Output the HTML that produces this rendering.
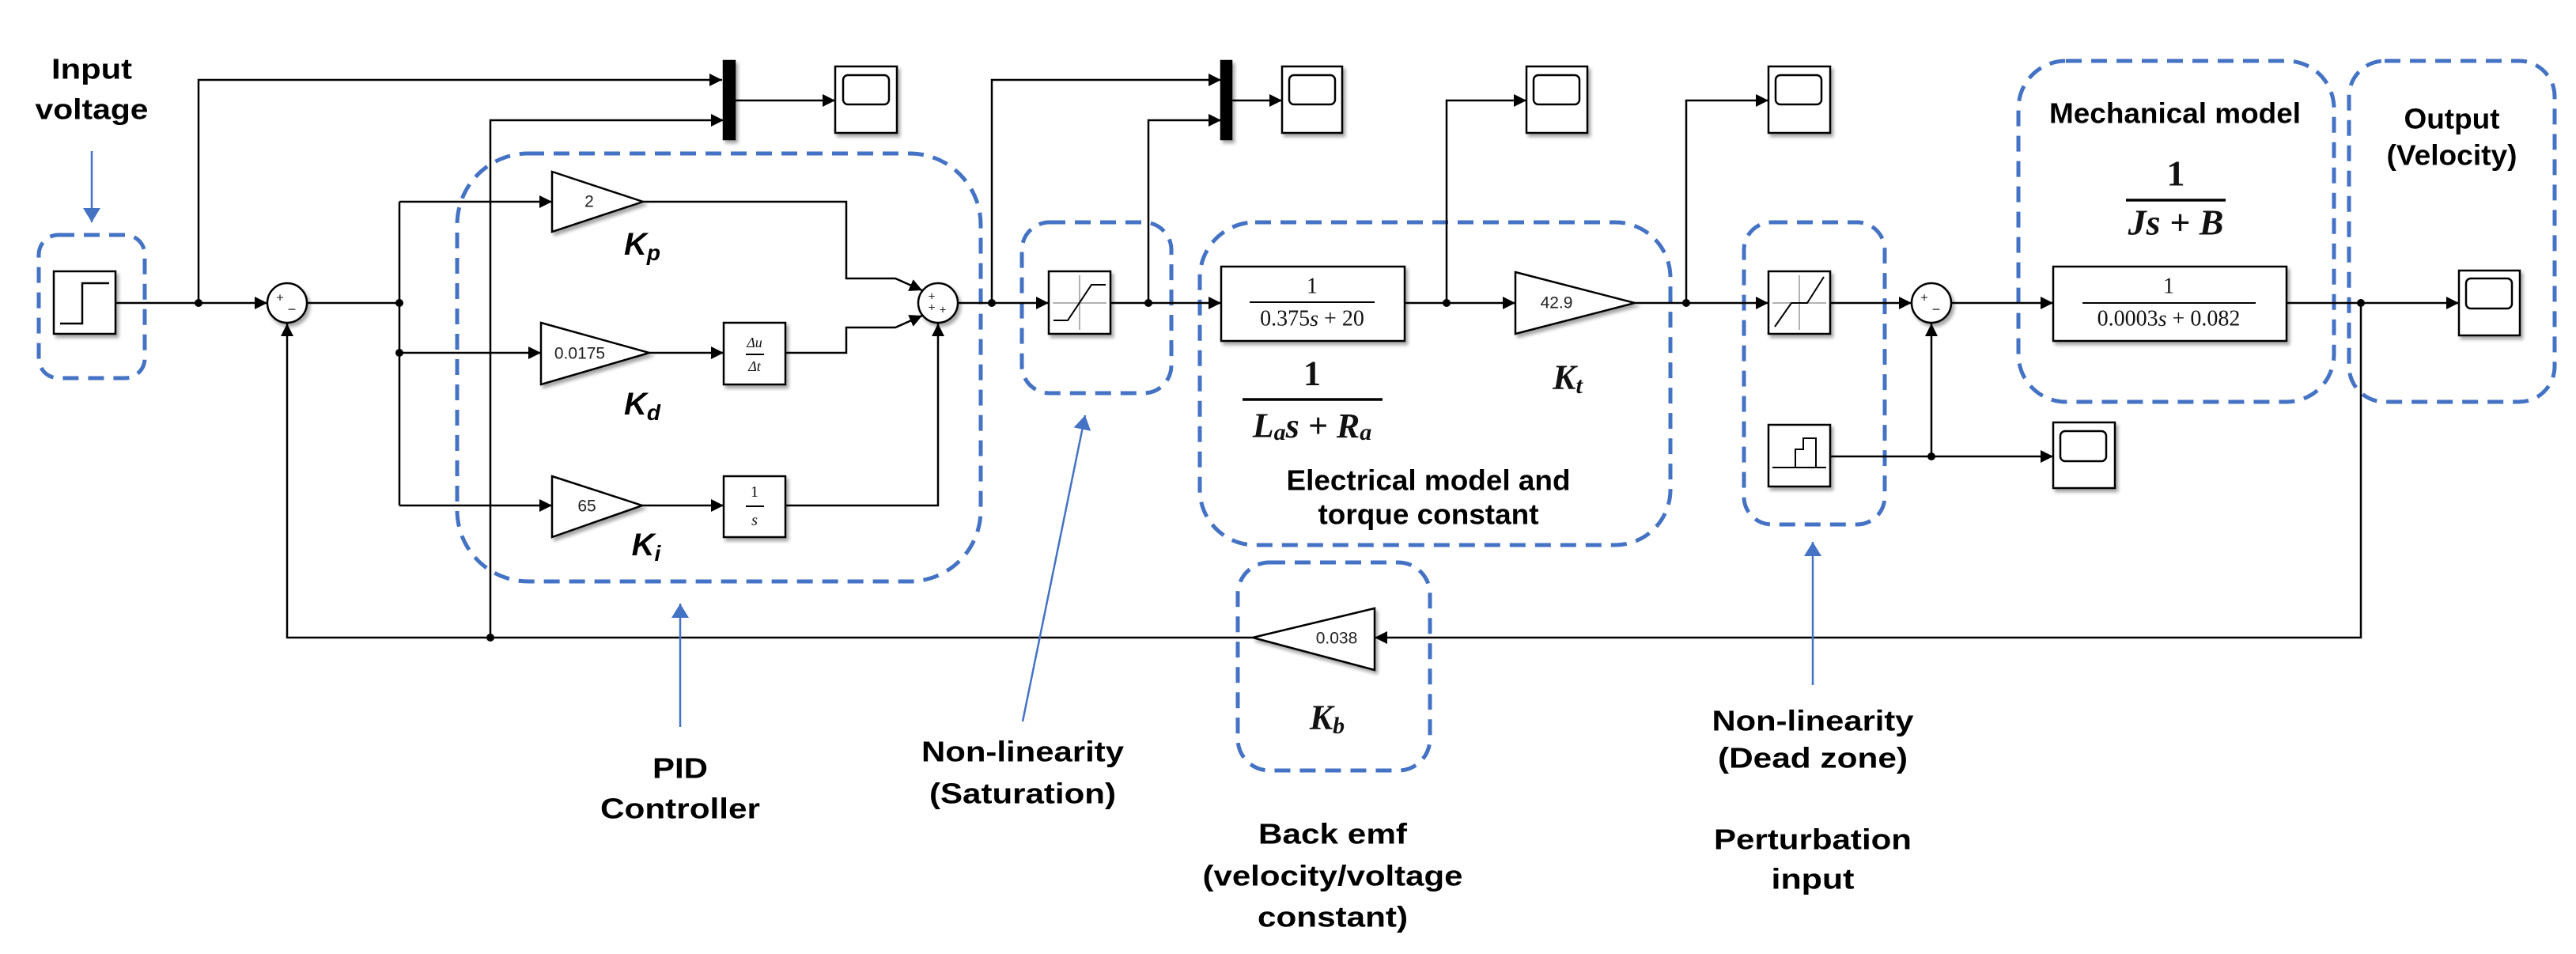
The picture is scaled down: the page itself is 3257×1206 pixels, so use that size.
<!DOCTYPE html>
<html><head><meta charset="utf-8"><style>html,body{margin:0;padding:0;background:#fff}svg{display:block}</style></head>
<body>
<svg width="3257" height="1206" viewBox="0 0 3257 1206" xmlns="http://www.w3.org/2000/svg">
<defs>
<marker id="a" markerUnits="userSpaceOnUse" markerWidth="18" markerHeight="16" refX="16" refY="8" orient="auto"><path d="M0,0 L16,8 L0,16 z" fill="#000"/></marker>
<marker id="b" markerUnits="userSpaceOnUse" markerWidth="18" markerHeight="22" refX="18" refY="11" orient="auto"><path d="M0,0 L18,11 L0,22 z" fill="#4472C4"/></marker>
<filter id="sh" x="-10%" y="-10%" width="130%" height="130%"><feDropShadow dx="3" dy="4" stdDeviation="2" flood-color="#000" flood-opacity="0.35"/></filter>
</defs>
<rect width="3257" height="1206" fill="#fff"/>

<!-- dashed group boxes -->
<g fill="none" stroke="#4472C4" stroke-width="5" stroke-dasharray="20 12">
<rect x="49" y="297" width="134" height="181" rx="25"/>
<rect x="578" y="194" width="662" height="541" rx="90"/>
<rect x="1292" y="281" width="189" height="216" rx="35"/>
<rect x="1517" y="281" width="595" height="408" rx="70"/>
<rect x="1565" y="711" width="243" height="263" rx="40"/>
<rect x="2205" y="281" width="178" height="382" rx="35"/>
<rect x="2552" y="77" width="399" height="431" rx="60"/>
<rect x="2970" y="77" width="260" height="431" rx="45"/>
</g>

<!-- connectors -->
<g fill="none" stroke="#000" stroke-width="2.5">
<path d="M146,383 H338" marker-end="url(#a)"/>
<path d="M251,383 V101 H913" marker-end="url(#a)"/>
<path d="M388,383 H505"/>
<path d="M505,255 V639"/>
<path d="M505,255 H698" marker-end="url(#a)"/>
<path d="M505,446 H684" marker-end="url(#a)"/>
<path d="M505,639 H698" marker-end="url(#a)"/>
<path d="M813,255 H1070 V352 H1132 L1166,367" marker-end="url(#a)"/>
<path d="M821,446 H915" marker-end="url(#a)"/>
<path d="M993,446 H1070 V414 H1132 L1166,399" marker-end="url(#a)"/>
<path d="M812,639 H915" marker-end="url(#a)"/>
<path d="M993,639 H1186 V409" marker-end="url(#a)"/>
<path d="M1210,383 H1326" marker-end="url(#a)"/>
<path d="M1254,383 V101 H1544" marker-end="url(#a)"/>
<path d="M1404,383 H1544" marker-end="url(#a)"/>
<path d="M1452,383 V152 H1544" marker-end="url(#a)"/>
<path d="M1557,127 H1621" marker-end="url(#a)"/>
<path d="M929,127 H1056" marker-end="url(#a)"/>
<path d="M620,806 V152 H915" marker-end="url(#a)"/>
<path d="M1776,383 H1916" marker-end="url(#a)"/>
<path d="M1829,383 V127 H1930" marker-end="url(#a)"/>
<path d="M2067,383 H2236" marker-end="url(#a)"/>
<path d="M2132,383 V127 H2236" marker-end="url(#a)"/>
<path d="M2314,383 H2417" marker-end="url(#a)"/>
<path d="M2314,577 H2596" marker-end="url(#a)"/>
<path d="M2442,577 V409" marker-end="url(#a)"/>
<path d="M2467,383 H2596" marker-end="url(#a)"/>
<path d="M2891,383 H3109" marker-end="url(#a)"/>
<path d="M2985,383 V806 H1738" marker-end="url(#a)"/>
<path d="M1584,806 H363 V409" marker-end="url(#a)"/>
</g>
<g fill="#000">
<circle cx="251" cy="383" r="5"/><circle cx="505" cy="383" r="5"/><circle cx="505" cy="446" r="5"/>
<circle cx="1254" cy="383" r="5"/><circle cx="1452" cy="383" r="5"/><circle cx="1829" cy="383" r="5"/>
<circle cx="2132" cy="383" r="5"/><circle cx="2442" cy="577" r="5"/><circle cx="2985" cy="383" r="5"/>
<circle cx="620" cy="806" r="5"/>
</g>

<!-- blocks -->
<g fill="#fff" stroke="#000" stroke-width="2.5" filter="url(#sh)">
<rect x="68" y="343" width="78" height="79"/>
<circle cx="363" cy="383" r="25"/>
<polygon points="698,217 813,255 698,293"/>
<polygon points="684,408 821,446 684,486"/>
<polygon points="698,602 812,639 698,679"/>
<rect x="915" y="408" width="78" height="78"/>
<rect x="915" y="602" width="78" height="77"/>
<circle cx="1186" cy="383" r="25"/>
<rect x="915" y="77" width="14" height="99" fill="#000"/>
<rect x="1056" y="84" width="78" height="84"/>
<rect x="1326" y="343" width="78" height="79"/>
<rect x="1544" y="77" width="13" height="99" fill="#000"/>
<rect x="1621" y="84" width="76" height="84"/>
<rect x="1544" y="337" width="232" height="94"/>
<rect x="1930" y="84" width="77" height="84"/>
<polygon points="1916,344 2067,383 1916,422"/>
<rect x="2236" y="84" width="78" height="84"/>
<rect x="2236" y="343" width="78" height="79"/>
<rect x="2236" y="537" width="78" height="78"/>
<circle cx="2442" cy="383" r="25"/>
<rect x="2596" y="534" width="78" height="83"/>
<rect x="2596" y="337" width="295" height="94"/>
<rect x="3109" y="342" width="77" height="82"/>
<polygon points="1738,769 1584,806 1738,847"/>
</g>

<!-- scope screens -->
<g fill="none" stroke="#000" stroke-width="2.5">
<rect x="1066" y="95" width="58" height="37" rx="6"/>
<rect x="1630" y="95" width="58" height="37" rx="6"/>
<rect x="1939" y="95" width="58" height="37" rx="6"/>
<rect x="2245" y="95" width="58" height="37" rx="6"/>
<rect x="2605" y="545" width="58" height="38" rx="6"/>
<rect x="3118" y="352" width="58" height="38" rx="6"/>
<!-- step -->
<path d="M76,409 H104 V358 H138"/>
</g>
<g fill="none" stroke="#000" stroke-width="2">
<!-- saturation -->
<path d="M1365,348 V417 M1331,383 H1399" stroke="#999" stroke-width="1.5"/>
<path d="M1332,405 H1350 L1380,360 H1398"/>
<!-- dead zone -->
<path d="M2275,348 V417 M2241,383 H2309" stroke="#999" stroke-width="1.5"/>
<path d="M2244,413 L2265,383 H2285 L2306,350"/>
<!-- perturbation -->
<path d="M2241,591 H2309 M2242,591 H2270 V568 H2280 V554 H2296 V591"/>
</g>

<!-- fraction lines in blocks -->
<g stroke="#000" stroke-width="2">
<line x1="1580" y1="382" x2="1738" y2="382"/>
<line x1="2633" y1="383" x2="2852" y2="383"/>
<line x1="943" y1="448" x2="966" y2="448"/>
<line x1="943" y1="640" x2="966" y2="640"/>
</g>
<g stroke="#000" stroke-width="3.5">
<line x1="1571" y1="505" x2="1748" y2="505"/>
<line x1="2688" y1="253" x2="2814" y2="253"/>
</g>

<!-- block text -->
<g font-family="Liberation Sans, sans-serif" font-size="21" fill="#222" text-anchor="middle" dominant-baseline="central">
<text x="745" y="255">2</text>
<text x="733" y="447">0.0175</text>
<text x="742" y="640">65</text>
<text x="1968" y="383">42.9</text>
<text x="1690" y="807">0.038</text>
<text x="354" y="377" font-size="16">+</text>
<text x="369" y="391" font-size="18">−</text>
<text x="1178" y="375" font-size="15">+</text>
<text x="1178" y="389" font-size="15">+</text>
<text x="1192" y="392" font-size="15">+</text>
<text x="2433" y="377" font-size="16">+</text>
<text x="2448" y="391" font-size="18">−</text>
</g>
<g font-family="Liberation Serif, serif" fill="#111" text-anchor="middle" dominant-baseline="central">
<text x="954" y="433" font-size="18" font-style="italic">Δu</text>
<text x="954" y="463" font-size="18" font-style="italic">Δt</text>
<text x="954" y="622" font-size="20">1</text>
<text x="954" y="658" font-size="20" font-style="italic">s</text>
<text x="1659" y="362" font-size="28">1</text>
<text x="1659" y="403" font-size="28">0.375<tspan font-style="italic">s</tspan> + 20</text>
<text x="2742" y="362" font-size="28">1</text>
<text x="2742" y="403" font-size="28">0.0003<tspan font-style="italic">s</tspan> + 0.082</text>
<text x="1659" y="472" font-size="44" font-weight="bold">1</text>
<text x="1659" y="538" font-size="44" font-weight="bold" font-style="italic">L<tspan font-size="30" dy="8">a</tspan><tspan dy="-8">s + R</tspan><tspan font-size="30" dy="8">a</tspan></text>
<text x="2751" y="219" font-size="46" font-weight="bold">1</text>
<text x="2751" y="281" font-size="46" font-weight="bold" font-style="italic">Js + B</text>
<text x="1982" y="477" font-size="44" font-weight="bold" font-style="italic">K<tspan font-size="30" dy="10">t</tspan></text>
<text x="1678" y="907" font-size="44" font-weight="bold" font-style="italic">K<tspan font-size="30" dy="10">b</tspan></text>
</g>
<g font-family="Liberation Sans, sans-serif" font-weight="bold" font-style="italic" fill="#000" text-anchor="middle" dominant-baseline="central" font-size="40">
<text x="812" y="309">K<tspan font-size="28" dy="10">p</tspan></text>
<text x="812" y="511">K<tspan font-size="28" dy="10">d</tspan></text>
<text x="817" y="689">K<tspan font-size="28" dy="10">i</tspan></text>
</g>

<!-- labels -->
<g font-family="Liberation Sans, sans-serif" font-weight="bold" fill="#000" text-anchor="middle" dominant-baseline="central" font-size="36" lengthAdjust="spacingAndGlyphs">
<text x="116" y="87" textLength="102" lengthAdjust="spacingAndGlyphs">Input</text>
<text x="116" y="138" textLength="143" lengthAdjust="spacingAndGlyphs">voltage</text>
<text x="860" y="971" textLength="70" lengthAdjust="spacingAndGlyphs">PID</text>
<text x="860" y="1022" textLength="202" lengthAdjust="spacingAndGlyphs">Controller</text>
<text x="1293" y="950" textLength="256" lengthAdjust="spacingAndGlyphs">Non-linearity</text>
<text x="1293" y="1003" textLength="236" lengthAdjust="spacingAndGlyphs">(Saturation)</text>
<text x="1806" y="607" textLength="359" lengthAdjust="spacingAndGlyphs">Electrical model and</text>
<text x="1806" y="650" textLength="279" lengthAdjust="spacingAndGlyphs">torque constant</text>
<text x="1685" y="1054" textLength="188" lengthAdjust="spacingAndGlyphs">Back emf</text>
<text x="1685" y="1107" textLength="329" lengthAdjust="spacingAndGlyphs">(velocity/voltage</text>
<text x="1685" y="1159" textLength="190" lengthAdjust="spacingAndGlyphs">constant)</text>
<text x="2292" y="911" textLength="255" lengthAdjust="spacingAndGlyphs">Non-linearity</text>
<text x="2292" y="958" textLength="240" lengthAdjust="spacingAndGlyphs">(Dead zone)</text>
<text x="2292" y="1061" textLength="250" lengthAdjust="spacingAndGlyphs">Perturbation</text>
<text x="2292" y="1111" textLength="105" lengthAdjust="spacingAndGlyphs">input</text>
<text x="2750" y="143" textLength="318" lengthAdjust="spacingAndGlyphs">Mechanical model</text>
<text x="3100" y="150" textLength="121" lengthAdjust="spacingAndGlyphs">Output</text>
<text x="3100" y="196" textLength="165" lengthAdjust="spacingAndGlyphs">(Velocity)</text>
</g>

<!-- blue pointer arrows -->
<g stroke="#4472C4" stroke-width="2.5" fill="none">
<path d="M116,191 V281" marker-end="url(#b)"/>
<path d="M860,919 V763" marker-end="url(#b)"/>
<path d="M1293,912 L1372,525" marker-end="url(#b)"/>
<path d="M2292,866 V685" marker-end="url(#b)"/>
</g>
</svg>
</body></html>
